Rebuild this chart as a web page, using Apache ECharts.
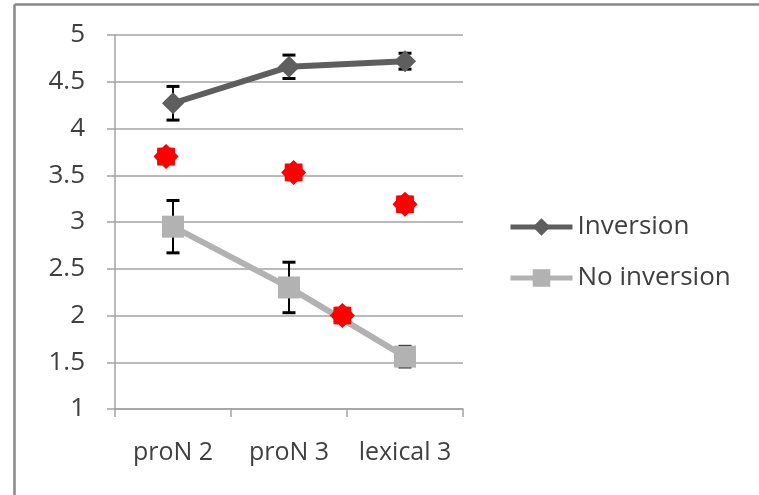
<!DOCTYPE html>
<html><head><meta charset="utf-8">
<script src="https://cdn.jsdelivr.net/npm/echarts@6/dist/echarts.min.js"></script>
<style>html,body{margin:0;padding:0;background:#fff}#c{width:759px;height:495px}</style>
</head><body><div id="c"></div>
<script>
const categories = ['proN 2', 'proN 3', 'lexical 3'];
const yMin = 1, yMax = 5, yStep = 0.5;
const inversion = [4.27, 4.66, 4.72];
const inversionErr = [0.18, 0.125, 0.085];
const noInversion = [2.95, 2.30, 1.56];
const noInversionErr = [0.28, 0.27, 0.11];
const starX = [-0.06, 1.04, 2.0, 1.46];
const starY = [3.70, 3.53, 3.19, 2.00];

const FONT = 'Open Sans';
const TXT = '#404040';
const GRID = '#a3a3a3';

// 8-point star path
function starPath() {
  let d = '';
  for (let k = 0; k < 16; k++) {
    const a = -Math.PI / 2 + k * Math.PI / 8;
    const r = (k % 2 === 0) ? 50 : 39;
    const x = 50 + r * Math.cos(a), y = 50 + r * Math.sin(a);
    d += (k === 0 ? 'M' : 'L') + x.toFixed(2) + ' ' + y.toFixed(2) + ' ';
  }
  return 'path://' + d + 'Z';
}

function errSeries(vals, errs) {
  return {
    type: 'custom', xAxisIndex: 0, yAxisIndex: 0, z: 1, silent: true,
    encode: { x: 0, y: [1, 2] },
    data: vals.map((v, i) => [i, v - errs[i], v + errs[i]]),
    renderItem: function (params, api) {
      const i = api.value(0);
      const lo = api.coord([i, api.value(1)]);
      const hi = api.coord([i, api.value(2)]);
      const w = 6.5;
      const st = { stroke: '#000', lineWidth: 2 };
      const cap = { stroke: '#000', lineWidth: 3 };
      return {
        type: 'group', children: [
          { type: 'line', shape: { x1: lo[0], y1: lo[1], x2: hi[0], y2: hi[1] }, style: st },
          { type: 'line', shape: { x1: lo[0] - w, y1: lo[1], x2: lo[0] + w, y2: lo[1] }, style: cap },
          { type: 'line', shape: { x1: hi[0] - w, y1: hi[1], x2: hi[0] + w, y2: hi[1] }, style: cap }
        ]
      };
    }
  };
}

const chart = echarts.init(document.getElementById('c'), null, { renderer: 'canvas' });
chart.setOption({
  animation: false,
  backgroundColor: '#fff',
  textStyle: { fontFamily: FONT },
  graphic: [
    { type: 'line', shape: { x1: 14.5, y1: 4.5, x2: 759, y2: 4.5 }, style: { stroke: '#888', lineWidth: 2.5 }, silent: true },
    { type: 'line', shape: { x1: 14.5, y1: 4.5, x2: 14.5, y2: 495 }, style: { stroke: '#888', lineWidth: 2.5 }, silent: true }
  ],
  grid: { left: 115, right: 296, top: 35, bottom: 86 },
  legend: {
    orient: 'vertical', left: 508, top: 212, padding: 0,
    itemWidth: 62, itemHeight: 22, itemGap: 21,
    data: ['Inversion', 'No inversion'],
    lineStyle: { width: 5 },
    textStyle: { fontFamily: FONT, fontSize: 26, color: TXT, lineHeight: 30 }
  },
  xAxis: [
    {
      type: 'category', data: categories, boundaryGap: true,
      axisLine: { lineStyle: { color: GRID, width: 1.5 } },
      axisTick: { show: true, interval: 0, length: 8, lineStyle: { color: GRID, width: 1.5 } },
      axisLabel: { margin: 31, fontSize: 25, color: TXT, fontFamily: FONT, interval: 0 },
      splitLine: { show: false }
    },
    { type: 'value', min: -0.5, max: 2.5, show: false, axisLine: { show: false }, splitLine: { show: false } }
  ],
  yAxis: {
    type: 'value', min: yMin, max: yMax, interval: yStep,
    axisLine: { show: true, onZero: false, lineStyle: { color: GRID, width: 1.5 } },
    axisTick: { show: true, length: 8, lineStyle: { color: GRID, width: 1.5 } },
    axisLabel: { margin: 30, fontSize: 26, color: TXT, fontFamily: FONT },
    splitLine: { show: true, lineStyle: { color: GRID, width: 1.5 } }
  },
  series: [
    errSeries(inversion, inversionErr),
    errSeries(noInversion, noInversionErr),
    {
      name: 'Inversion', type: 'line', data: inversion, z: 3,
      symbol: 'diamond', symbolSize: 22,
      lineStyle: { color: '#5e5e5e', width: 6 },
      itemStyle: { color: '#5e5e5e' }
    },
    {
      name: 'No inversion', type: 'line', data: noInversion, z: 3,
      symbol: 'rect', symbolSize: 22,
      lineStyle: { color: '#b2b2b2', width: 6 },
      itemStyle: { color: '#b2b2b2' }
    },
    {
      name: 'stars', type: 'scatter', xAxisIndex: 1, z: 5,
      data: starX.map((x, i) => [x, starY[i]]),
      symbol: starPath(), symbolSize: 25,
      itemStyle: { color: '#ff0000', opacity: 1 }
    }
  ]
});
</script>
</body></html>
